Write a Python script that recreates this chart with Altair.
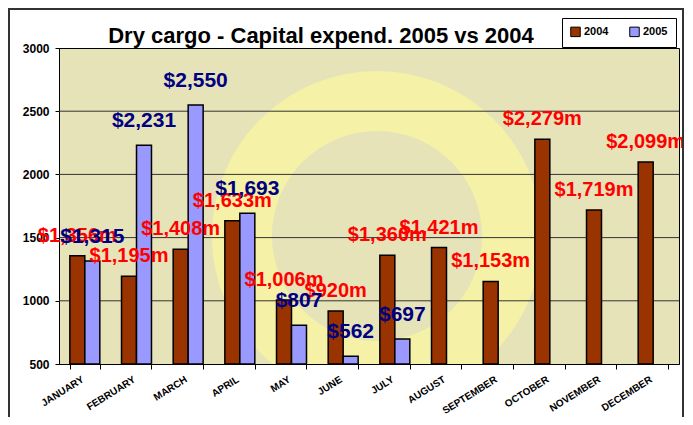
import altair as alt
import pandas as pd

months = ["JANUARY", "FEBRUARY", "MARCH", "APRIL", "MAY", "JUNE",
          "JULY", "AUGUST", "SEPTEMBER", "OCTOBER", "NOVEMBER", "DECEMBER"]
capex_2004 = [1356, 1195, 1408, 1633, 1006, 920, 1360, 1421, 1153, 2279, 1719, 2099]
capex_2005 = [1315, 2231, 2550, 1693, 807, 562, 697]
years = ["2004", "2005"]
y_ticks = [500, 1000, 1500, 2000, 2500, 3000]
grid_vals = [1000, 1500, 2000, 2500]
title_text = "Dry cargo - Capital expend. 2005 vs 2004"

rows = []
for m, v in zip(months, capex_2004):
    rows.append({"month": m, "year": "2004", "value": v, "label": f"${v:,}m"})
for m, v in zip(months, capex_2005):
    rows.append({"month": m, "year": "2005", "value": v, "label": f"${v:,}"})
df = pd.DataFrame(rows)

FONT = "Liberation Sans"
W, H = 620, 316

x_enc = alt.X("month:N", sort=months,
              scale=alt.Scale(paddingInner=0.42, paddingOuter=0.21),
              axis=alt.Axis(title=None, labelAngle=-32, labelAlign="right",
                            labelBaseline="top", labelFont=FONT, labelFontSize=10,
                            labelFontWeight="bold", labelColor="black",
                            tickBand="extent", tickSize=5, tickColor="black",
                            domainColor="black", labelPadding=5, labelOffset=-5))
xo_enc = alt.XOffset("year:N", scale=alt.Scale(domain=years, paddingInner=0, paddingOuter=0))
y_scale = alt.Scale(domain=[500, 3000], zero=False, nice=False)
y_enc = alt.Y("value:Q", scale=y_scale,
              axis=alt.Axis(title=None, values=y_ticks, grid=False, format="d",
                            labelFont=FONT, labelFontSize=12, labelFontWeight="bold",
                            labelColor="black", tickSize=4, tickColor="black",
                            domainColor="black", labelPadding=6))

# decorative watermark ring
ring = alt.Chart(pd.DataFrame({"d": [0]})).mark_arc(
    radius=165, radius2=105, theta=0, theta2=6.2832,
    color="#F5F1A6", clip=True
).encode(x=alt.value(318), y=alt.value(188))

grid = alt.Chart(pd.DataFrame({"g": grid_vals})).mark_rule(
    color="#333333", strokeWidth=1
).encode(y=alt.Y("g:Q", scale=y_scale))

bars = alt.Chart(df).mark_bar(stroke="black", strokeWidth=1.5).encode(
    x=x_enc, xOffset=xo_enc, y=y_enc, y2=alt.datum(500),
    color=alt.Color("year:N", scale=alt.Scale(domain=years, range=["#993300", "#9999FF"]),
                    legend=alt.Legend(title=None, orient="none", legendX=503, legendY=-30,
                                      direction="horizontal", strokeColor="black",
                                      fillColor="white", padding=8, symbolType="square",
                                      symbolSize=90, symbolStrokeColor="black",
                                      symbolStrokeWidth=1, labelFont=FONT,
                                      labelFontSize=11, labelFontWeight="bold",
                                      columnPadding=18, labelOffset=3)),
)

lab04 = alt.Chart(df).transform_filter(alt.datum.year == "2004").mark_text(
    font=FONT, fontSize=20, fontWeight="bold", color="#FF0000", baseline="middle", dy=-20
).encode(x=x_enc, xOffset=xo_enc, y=y_enc, text="label:N")

lab05 = alt.Chart(df).transform_filter(alt.datum.year == "2005").mark_text(
    font=FONT, fontSize=21, fontWeight="bold", color="#000080", baseline="middle", dy=-24
).encode(x=x_enc, xOffset=xo_enc, y=y_enc, text="label:N")

frame = alt.Chart(pd.DataFrame({"d": [0]})).mark_rect(
    fill=None, stroke="#333333", strokeWidth=2, clip=False
).encode(x=alt.value(-50), x2=alt.value(624), y=alt.value(-39), y2=alt.value(420))

chart = alt.layer(ring, grid, bars, lab04, lab05, frame).resolve_scale(
    xOffset="shared"
).properties(
    width=W, height=H,
    title=alt.TitleParams(title_text, font=FONT, fontSize=22, fontWeight="bold",
                          anchor="middle", dx=-48, dy=45, offset=5, color="black"),
    padding={"left": 51, "top": 40, "right": 6, "bottom": 53},
    autosize=alt.AutoSizeParams(type="none"),
    background="white",
).configure_view(fill="#E6E3B9", stroke="black", strokeWidth=1)

chart.save("out.html", embed_options={"renderer": "svg", "actions": False})
